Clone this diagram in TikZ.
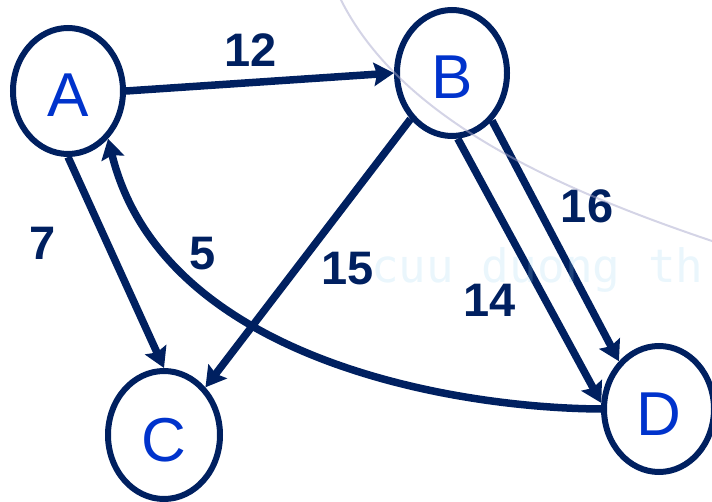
\documentclass[tikz,border=0pt]{standalone}
\usepackage{fontspec}
\setmainfont{Liberation Sans}
\newfontfamily\wmfont{DejaVu Sans Mono}
\usetikzlibrary{arrows.meta,shapes.geometric}
\definecolor{navy}{RGB}{0,32,96}
\definecolor{nodeblue}{RGB}{0,51,204}
\definecolor{wmcyan}{RGB}{150,210,240}
\definecolor{wmgray}{RGB}{170,170,205}
\begin{document}
\begin{tikzpicture}[x=1pt,y=-1pt,
  vertex/.style={ellipse, draw=navy, line width=6pt, minimum width=110pt, minimum height=126pt,
    inner sep=0pt, font=\fontsize{62}{62}\selectfont, text=nodeblue, text height=52pt, text depth=0pt},
  edge/.style={draw=navy, line width=7.5pt, -{Stealth[length=20pt,width=23pt,inset=3pt]}},
  wlabel/.style={font=\fontsize{47}{47}\selectfont\bfseries, text=navy, inner sep=0pt}]
\useasboundingbox (0,0) rectangle (712,502);

% nodes
\node[vertex] (A) at (68,91) {A};
\node[vertex] (B) at (452,73) {B};
\node[vertex, minimum width=112pt, minimum height=128pt] (C) at (164,435) {C};
\node[vertex] (D) at (659,409) {D};

% edges
\draw[edge] (A.east) -- (B.west);
\draw[edge] (A.south) -- (C.north);
\draw[edge] (B.-132) -- (C.49);
\draw[edge] (B.-85) -- (D.174);
\draw[edge] (B.-50) -- (D.130);
\draw[edge] (D.west) .. controls (450,408) and (162,358) .. (A.-50);

% weights
\node[wlabel] (w12) at (251,50) {12};
\node[wlabel] (w7) at (43,243) {7};
\node[wlabel] (w5) at (203,254) {5};
\node[wlabel] (w15) at (348,269) {15};
\node[wlabel] (w14) at (490,300) {14};
\node[wlabel] (w16) at (587,206) {16};

% faint watermark
\begin{scope}
\clip (0,0) rectangle (712,502);
\draw[wmgray, line width=2pt, opacity=0.5] (340,-2) .. controls (400,120) and (560,190) .. (715,242);
\node[anchor=base west, font=\wmfont\fontsize{46}{46}\selectfont, text=wmcyan, opacity=0.2, inner sep=0pt] (wm) at (371,283) {cuu duong th};
\end{scope}
\end{tikzpicture}
\end{document}
